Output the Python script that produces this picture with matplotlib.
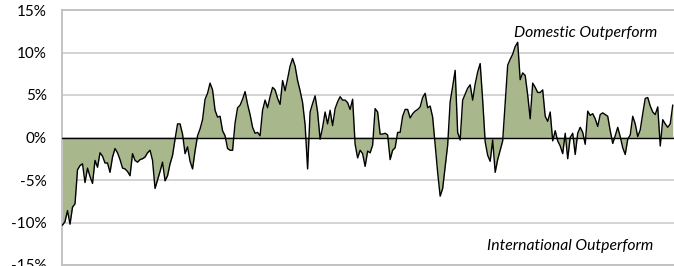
import matplotlib
matplotlib.use('Agg')
import matplotlib.pyplot as plt
import numpy as np

# relative performance, domestic minus international (%), one value per period
spread = [
    -10.3, -9.9, -8.6, -10.2, -8.2, -7.8, -3.8, -3.3, -3.1, -5.3,
    -3.6, -4.6, -5.4, -2.7, -3.5, -1.8, -2.2, -3.0, -3.0, -4.1,
    -2.3, -1.3, -1.8, -2.6, -3.6, -3.7, -4.0, -4.5, -1.9, -2.7,
    -2.9, -2.6, -2.5, -2.3, -1.8, -1.5, -2.7, -6.0, -5.0, -4.0,
    -2.9, -5.1, -4.5, -3.1, -2.1, -0.2, 1.6, 1.6, 0.4, -1.9,
    -1.1, -2.8, -3.7, -1.6, 0.2, 1.0, 2.1, 4.5, 5.2, 6.4,
    5.6, 3.2, 2.4, 2.5, 0.8, 0.2, -1.3, -1.5, -1.5, 1.7,
    3.5, 3.8, 4.5, 5.4, 3.9, 2.7, 1.2, 0.5, 0.6, 0.2,
    3.2, 4.4, 3.5, 4.8, 5.9, 5.6, 4.6, 3.9, 6.7, 5.5,
    6.9, 8.4, 9.3, 8.4, 6.7, 5.5, 4.1, 1.5, -3.7, 3.0,
    4.0, 4.9, 3.0, -0.2, 1.2, 3.0, 1.6, 3.2, 1.4, 3.4,
    4.2, 4.8, 4.4, 4.4, 4.1, 3.3, 4.5, -0.8, -2.4, -1.5,
    -1.9, -3.4, -1.6, -1.8, -0.9, 3.4, 3.0, 0.4, 0.4, 0.5,
    0.3, -2.6, -1.5, -1.2, 0.6, 0.6, 2.5, 3.3, 3.3, 2.3,
    2.8, 3.1, 3.3, 3.6, 4.7, 5.2, 3.5, 3.7, 2.4, -0.9,
    -4.1, -6.9, -6.0, -3.5, -0.9, 4.2, 6.0, 7.9, 0.6, -0.3,
    4.4, 5.1, 5.8, 6.2, 4.4, 6.3, 7.7, 8.7, 4.4, -0.5,
    -2.1, -2.8, -0.3, -4.1, -2.6, -1.5, -0.4, 4.0, 8.5, 9.2,
    9.8, 10.7, 11.2, 6.8, 7.6, 7.3, 5.0, 2.2, 6.4, 5.9,
    5.3, 5.3, 5.6, 2.5, 1.9, 3.0, -0.4, 0.8, -0.4, -1.0,
    -1.9, 0.5, -2.5, 0.0, 0.5, -2.0, 0.5, 1.2, 0.6, -0.8,
    3.1, 2.6, 2.8, 2.2, 1.3, 2.7, 2.9, 2.7, 2.5, 0.8,
    -0.7, 0.2, 1.2, 0.1, -1.2, -2.0, -0.2, 0.3, 2.5, 1.6,
    0.1, 0.9, 2.8, 4.6, 4.7, 3.7, 3.0, 2.7, 3.6, -1.0,
    2.1, 1.6, 1.2, 1.6, 3.8,
]
y_ticks = [-15, -10, -5, 0, 5, 10, 15]
y_labels = ['-15%', '-10%', '-5%', '0%', '5%', '10%', '15%']
top_note = 'Domestic Outperform'
bottom_note = 'International Outperform'

plt.rcParams['font.family'] = ['Lato', 'DejaVu Sans']

fig = plt.figure(figsize=(6.74, 2.66), dpi=100)
ax = fig.add_axes([62 / 674, 1 / 266, 1 - 62 / 674, 255 / 266])

x = np.arange(len(spread))
vals = np.array(spread)

#area to zero, then the outline on top
ax.fill_between(x, vals, 0, color='#a8b88c', lw=0, zorder=2)
ax.plot(x, vals, color='black', lw=1.0, zorder=3)
ax.axhline(0, color='black', lw=1, zorder=4)

ax.set_xlim(-0.2, len(spread) - 0.5)
ax.set_ylim(-15, 15)
ax.set_yticks(y_ticks)
ax.set_yticklabels(y_labels)
ax.set_xticks([])
ax.yaxis.grid(True, color='#d0d0d0', lw=1.3, zorder=0)
ax.set_axisbelow(True)
ax.tick_params(axis='y', length=0, pad=11, labelsize=11, colors='black')

for side in ['top', 'bottom', 'left']:
    ax.spines[side].set_color('#bfbfbf')
    ax.spines[side].set_linewidth(1.3)
ax.spines['right'].set_visible(False)

ax.text(0.972, 0.91, top_note, transform=ax.transAxes, ha='right', va='center',
        fontsize=11.3, style='italic')
ax.text(0.966, 0.075, bottom_note, transform=ax.transAxes, ha='right', va='center',
        fontsize=11.3, style='italic')

plt.savefig('out.png', dpi=100)
